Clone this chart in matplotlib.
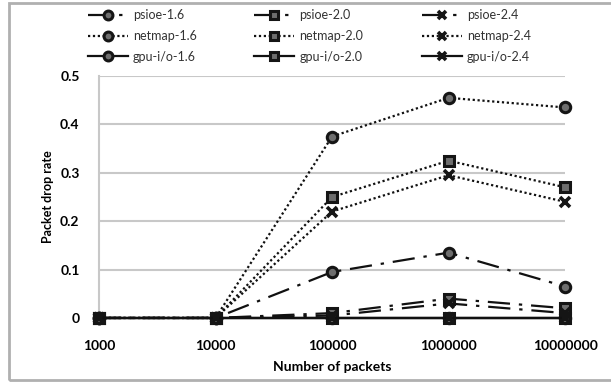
import numpy as np
import matplotlib.pyplot as plt
from matplotlib.patches import Rectangle

plt.rcParams['font.family'] = ['Lato', 'DejaVu Sans']

packets = ['1000', '10000', '100000', '1000000', '10000000']

psioe_16 = [0, 0, 0.095, 0.135, 0.065]
psioe_20 = [0, 0, 0.010, 0.040, 0.020]
psioe_24 = [0, 0, 0.005, 0.030, 0.010]
netmap_16 = [0, 0, 0.375, 0.455, 0.435]
netmap_20 = [0, 0, 0.250, 0.325, 0.270]
netmap_24 = [0, 0, 0.220, 0.295, 0.240]
gpuio_16 = [0, 0, 0, 0, 0]
gpuio_20 = [0, 0, 0, 0, 0]
gpuio_24 = [0, 0, 0, 0, 0]

series = [
    ('psioe-1.6', psioe_16, 'dashdot', 'o'),
    ('netmap-1.6', netmap_16, 'dotted', 'o'),
    ('gpu-i/o-1.6', gpuio_16, 'solid', 'o'),
    ('psioe-2.0', psioe_20, 'dashdot', 's'),
    ('netmap-2.0', netmap_20, 'dotted', 's'),
    ('gpu-i/o-2.0', gpuio_20, 'solid', 's'),
    ('psioe-2.4', psioe_24, 'dashdot', 'x'),
    ('netmap-2.4', netmap_24, 'dotted', 'x'),
    ('gpu-i/o-2.4', gpuio_24, 'solid', 'x'),
]

styles = {'dashdot': (0, (10, 4, 1.5, 4)), 'dotted': (0, (1, 1.2)), 'solid': '-'}

fig = plt.figure(figsize=(6.11, 3.84), dpi=100)
fig.patches.append(Rectangle((0.015, 0.01), 0.99, 0.982, transform=fig.transFigure,
                             fill=False, edgecolor='#b0b0b0', linewidth=2))
ax = fig.add_axes([0.162, 0.172, 0.763, 0.63])

x = np.arange(len(packets))
handles = []
for name, vals, ls, mk in series:
    kw = dict(marker=mk, markersize=7.5, markeredgecolor='#151515', markeredgewidth=2.2,
              markerfacecolor='#6e6e6e')
    if mk == 'x':
        kw.update(markersize=6.5, markeredgewidth=2.6)
    h, = ax.plot(x, vals, color='#111111', linestyle=styles[ls], linewidth=1.6,
                 clip_on=False, label=name, zorder=3, **kw)
    handles.append(h)

ax.set_xlim(0, 4)
ax.set_ylim(0, 0.5)
ax.set_yticks([0, 0.1, 0.2, 0.3, 0.4, 0.5])
ax.set_yticklabels(['0', '0.1', '0.2', '0.3', '0.4', '0.5'])
ax.set_xticks(x)
ax.set_xticklabels(packets)
ax.grid(axis='y', color='#c8c8c8', linewidth=1.5)
ax.set_axisbelow(True)
for s in ['top', 'right', 'bottom']:
    ax.spines[s].set_visible(False)
ax.spines['left'].set_color('#c8c8c8')
ax.spines['left'].set_linewidth(1.5)
ax.tick_params(axis='x', length=0, labelsize=10, pad=16)
ax.tick_params(axis='y', length=0, labelsize=10, pad=14)
for lab in ax.get_xticklabels() + ax.get_yticklabels():
    lab.set_fontweight('bold')
ax.set_xlabel('Number of packets', fontsize=10, fontweight='bold', labelpad=6)
ax.set_ylabel('Packet drop rate', fontsize=9, fontweight='bold', labelpad=4)

# one legend per column so each column sits where the original has it
col_x = [0.125, 0.398, 0.672]
for i, cx in enumerate(col_x):
    leg = fig.legend(handles=handles[3 * i:3 * i + 3], loc='upper left',
                     bbox_to_anchor=(cx, 1.005), frameon=False, fontsize=9,
                     handlelength=3.2, labelspacing=0.7, handletextpad=0.4,
                     labelcolor='#333333', markerscale=0.85)

fig.savefig('out.png', dpi=100)
